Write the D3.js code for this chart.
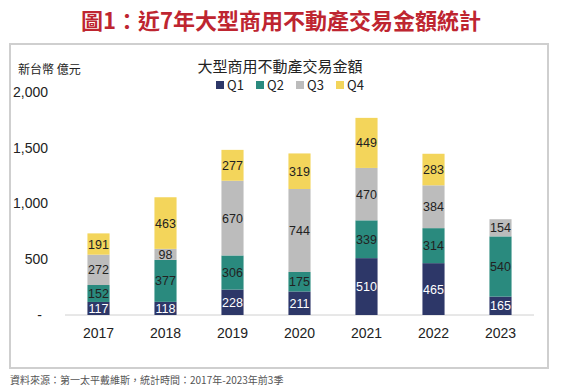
<!DOCTYPE html>
<html>
<head>
<meta charset="utf-8">
<script src="https://cdn.jsdelivr.net/npm/d3@7"></script>
<style>
  body { margin: 0; background: #fff; }
  svg { display: block; font-family: "Noto Sans CJK TC", "Noto Sans", sans-serif; }
</style>
</head>
<body>
<div id="chart"></div>
<script>
// 大型商用不動產交易金額 (新台幣 億元)
const years = ['2017', '2018', '2019', '2020', '2021', '2022', '2023'];
const quarters = ['Q1', 'Q2', 'Q3', 'Q4'];
const q1 = [117, 118, 228, 211, 510, 465, 165];
const q2 = [152, 377, 306, 175, 339, 314, 540];
const q3 = [272, 98, 670, 744, 470, 384, 154];
const q4 = [191, 463, 277, 319, 449, 283, 0];
const yTicks = [0, 500, 1000, 1500, 2000];

const colors = { Q1: '#2d3768', Q2: '#2a8a7e', Q3: '#bcbcbc', Q4: '#f3d55b' };
const labelColors = { Q1: '#fff', Q2: '#222', Q3: '#222', Q4: '#222' };

const width = 563, height = 388;
const margin = { left: 65, right: 29, top: 92, bottom: 73 };

const svg = d3.select('#chart').append('svg')
  .attr('width', width)
  .attr('height', height);

// page title
svg.append('text')
  .attr('x', 281)
  .attr('y', 29)
  .attr('text-anchor', 'middle')
  .attr('font-size', '22px')
  .attr('font-weight', 'bold')
  .attr('fill', '#be2530')
  .text('圖1：近7年大型商用不動產交易金額統計');

// frame
svg.append('rect')
  .attr('x', 10).attr('y', 44)
  .attr('width', 538).attr('height', 324)
  .attr('fill', 'none')
  .attr('stroke', '#cfcfcf')
  .attr('stroke-width', 2);

const table = years.map((year, i) => ({ year, Q1: q1[i], Q2: q2[i], Q3: q3[i], Q4: q4[i] }));
const series = d3.stack().keys(quarters)(table);

const x = d3.scaleBand()
  .domain(years)
  .range([margin.left, width - margin.right])
  .paddingInner(0.67)
  .paddingOuter(0.335);

const y = d3.scaleLinear()
  .domain([0, 2000])
  .range([height - margin.bottom, margin.top]);

// y axis labels
const yAxis = d3.axisLeft(y)
  .tickValues(yTicks)
  .tickSize(0)
  .tickPadding(0)
  .tickFormat(d => d === 0 ? '-' : d3.format(',')(d));

const yg = svg.append('g')
  .attr('transform', 'translate(48,0)')
  .call(yAxis);
yg.select('.domain').remove();
yg.selectAll('text')
  .attr('font-size', '14px')
  .attr('fill', '#222')
  .attr('dx', d => d === 0 ? -6 : 0);

// baseline
svg.append('line')
  .attr('x1', margin.left).attr('x2', width - margin.right)
  .attr('y1', y(0)).attr('y2', y(0))
  .attr('stroke', '#d0d0d0')
  .attr('stroke-width', 1);

// bars
const layer = svg.append('g')
  .selectAll('g')
  .data(series)
  .enter()
  .append('g')
  .attr('fill', d => colors[d.key]);

layer.selectAll('rect')
  .data(d => d.map(v => Object.assign(v, { key: d.key })))
  .enter()
  .append('rect')
  .attr('x', d => x(d.data.year))
  .attr('width', x.bandwidth())
  .attr('y', d => y(d[1]))
  .attr('height', d => y(d[0]) - y(d[1]));

// value labels
layer.selectAll('text')
  .data(d => d.filter(v => v[1] - v[0] > 0))
  .enter()
  .append('text')
  .attr('x', d => x(d.data.year) + x.bandwidth() / 2)
  .attr('y', d => (y(d[0]) + y(d[1])) / 2 + 4.5)
  .attr('text-anchor', 'middle')
  .attr('font-family', '"Liberation Sans", Arial, sans-serif')
  .attr('font-size', '12.5px')
  .attr('fill', d => labelColors[d.key])
  .text(d => d[1] - d[0]);

// x axis labels
const xAxis = d3.axisBottom(x).tickSize(0).tickPadding(0);
const xg = svg.append('g')
  .attr('transform', `translate(0,${y(0) + 10})`)
  .call(xAxis);
xg.select('.domain').remove();
xg.selectAll('text')
  .attr('font-size', '14px')
  .attr('fill', '#222')
  .attr('dy', '0.9em');

// unit label
svg.append('text')
  .attr('x', 18).attr('y', 74)
  .attr('font-size', '12px')
  .attr('fill', '#222')
  .text('新台幣 億元');

// chart title
svg.append('text')
  .attr('x', 280).attr('y', 72)
  .attr('text-anchor', 'middle')
  .attr('font-size', '15px')
  .attr('fill', '#222')
  .text('大型商用不動產交易金額');

// legend
const legendX = [216, 256, 296, 336];
const legend = svg.append('g')
  .selectAll('g')
  .data(quarters)
  .enter()
  .append('g')
  .attr('transform', (d, i) => `translate(${legendX[i]},80)`);

legend.append('rect')
  .attr('width', 8).attr('height', 8)
  .attr('y', 1)
  .attr('fill', d => colors[d]);

legend.append('text')
  .attr('x', 11).attr('y', 10)
  .attr('font-size', '13px')
  .attr('fill', '#222')
  .text(d => d);

// source note
svg.append('text')
  .attr('x', 10).attr('y', 384)
  .attr('font-size', '10px')
  .attr('fill', '#555')
  .text('資料來源：第一太平戴維斯，統計時間：2017年-2023年前3季');
</script>
</body>
</html>
